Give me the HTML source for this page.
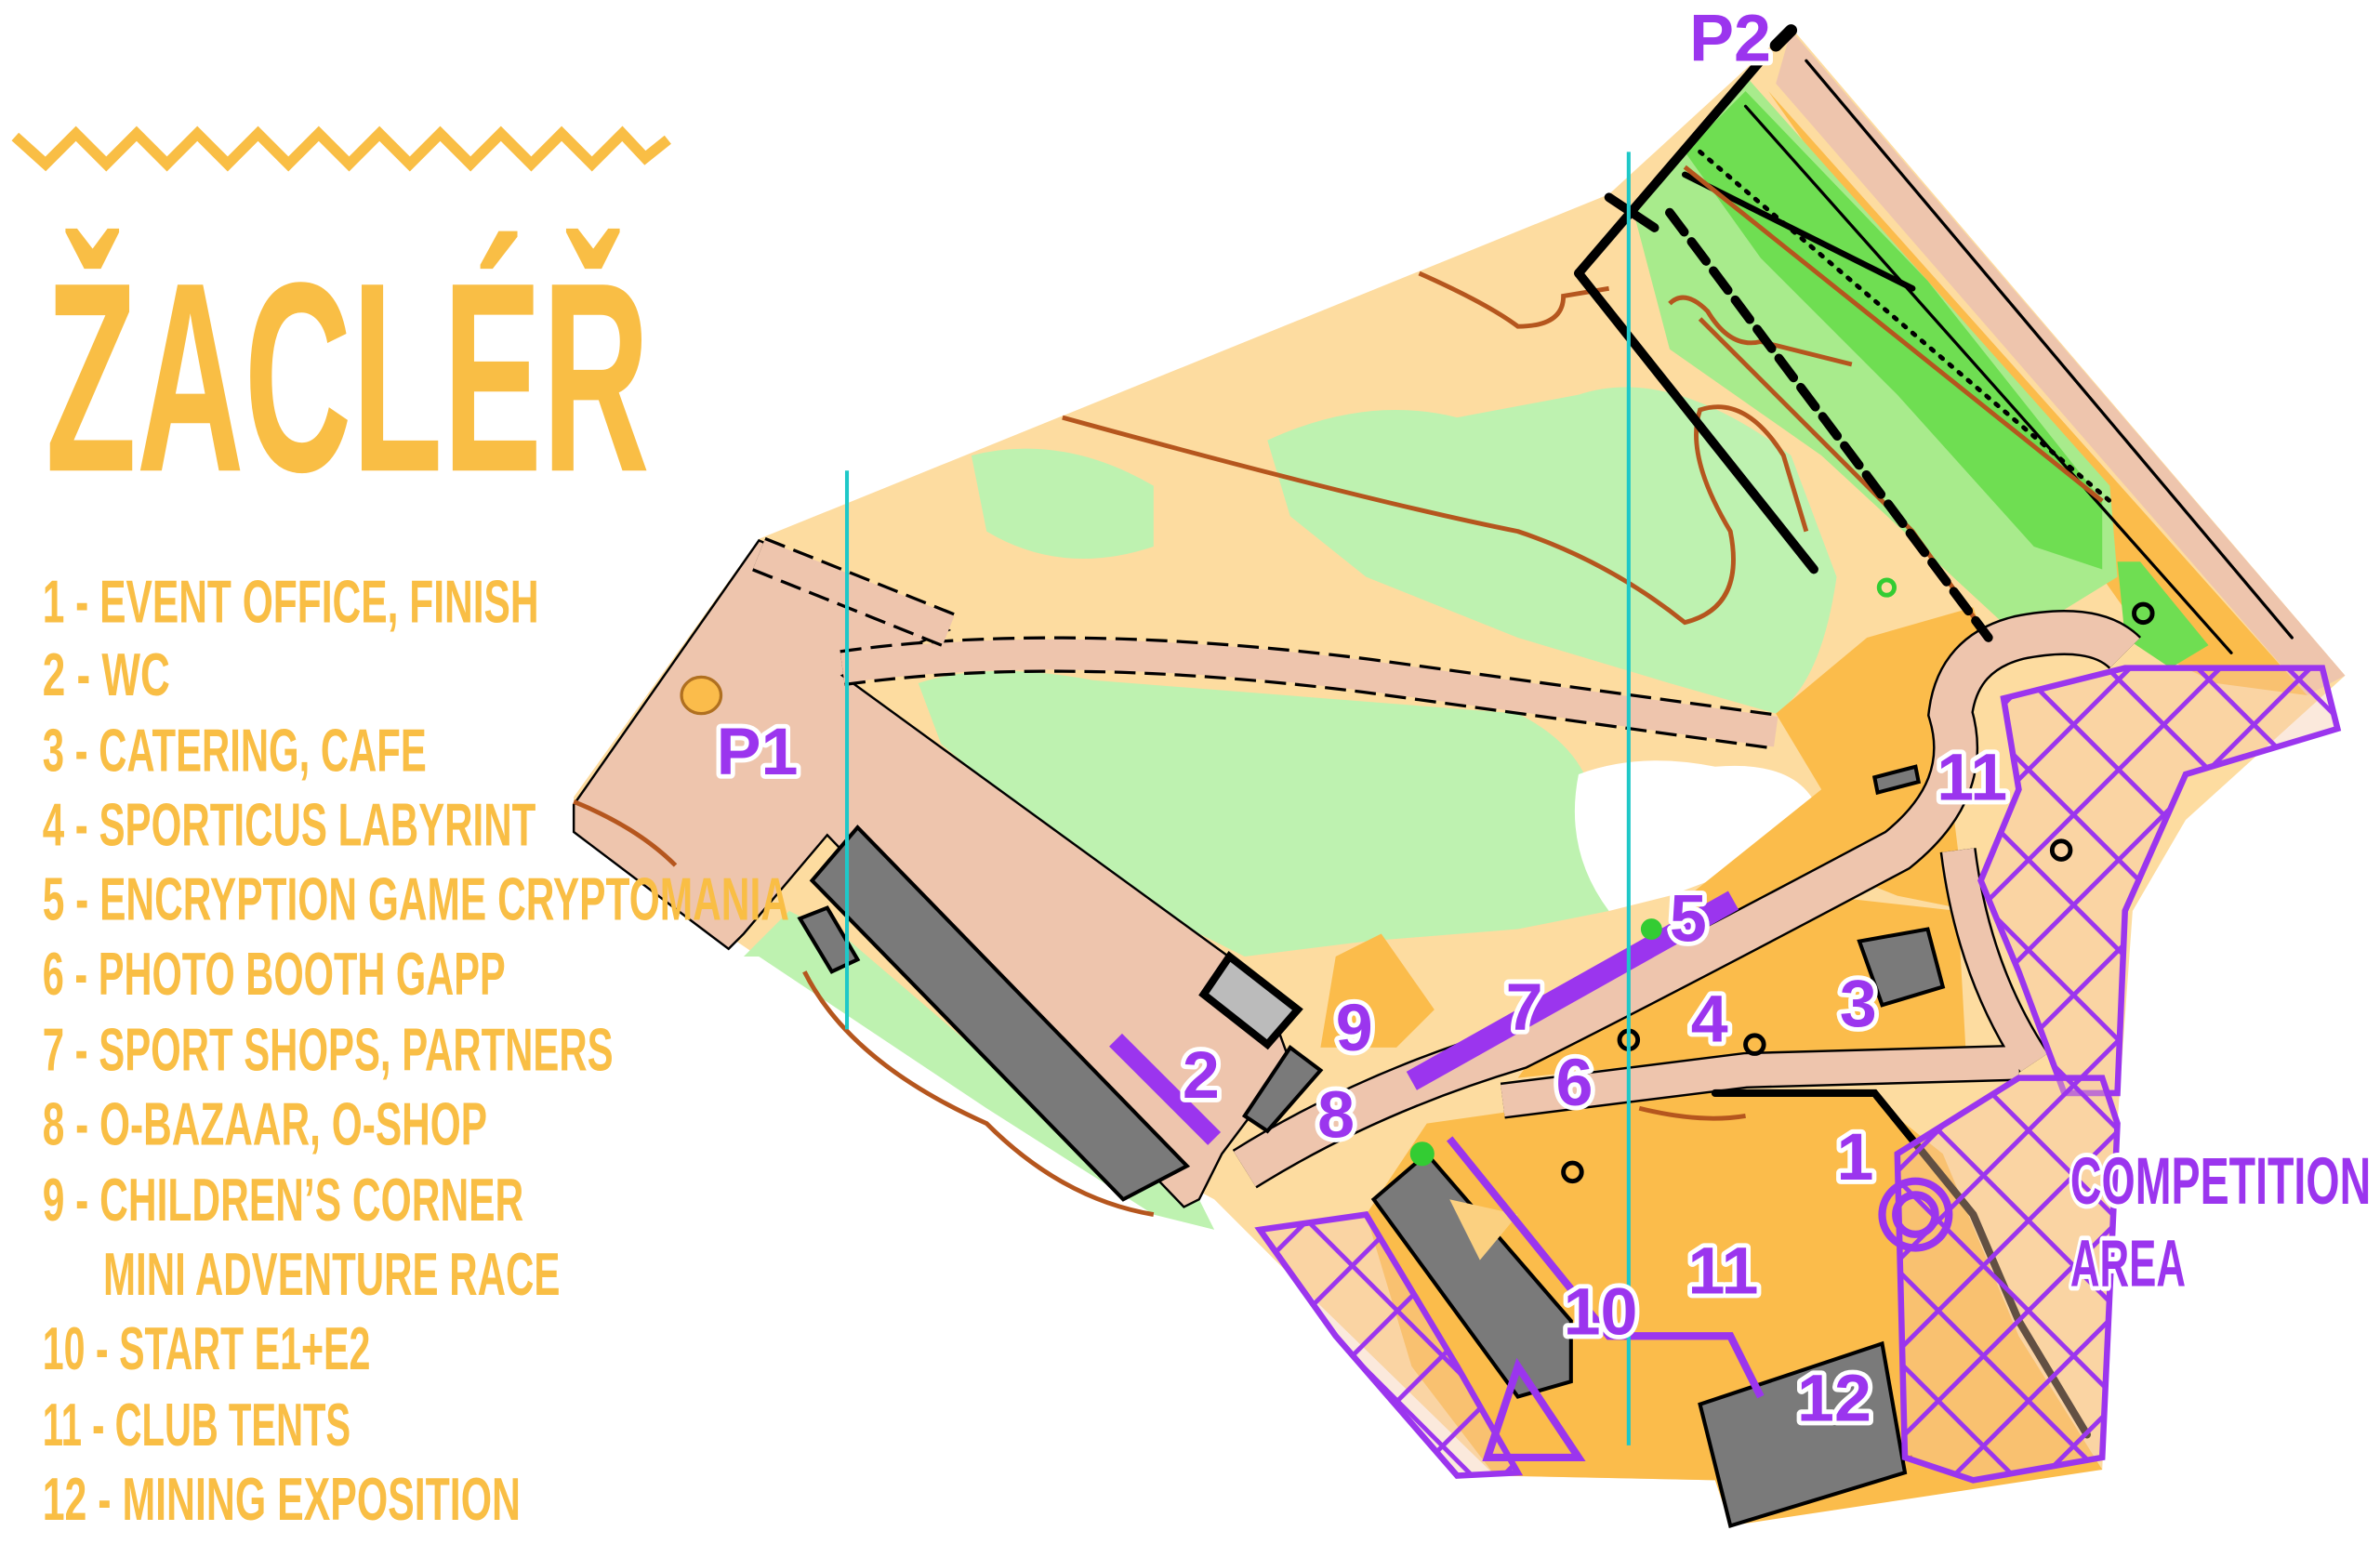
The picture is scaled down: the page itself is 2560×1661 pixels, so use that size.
<!DOCTYPE html>
<html><head><meta charset="utf-8"><style>
html,body{margin:0;padding:0;background:#fff;}
svg{display:block;}
.lg{font-family:"Liberation Sans Narrow","Liberation Sans",sans-serif;font-weight:bold;fill:#F9BE45;font-size:40px;}
.lb{font-family:"Liberation Sans Narrow","Liberation Sans",sans-serif;font-weight:bold;fill:#9B35EE;stroke:#fff;stroke-width:6px;paint-order:stroke;stroke-linejoin:round;font-size:44px;}
</style></head><body>
<svg width="2560" height="1661" viewBox="0 0 1568 1017" preserveAspectRatio="none" xmlns="http://www.w3.org/2000/svg">
<defs>
<pattern id="hatch" width="42" height="42" patternUnits="userSpaceOnUse" patternTransform="rotate(45)">
<rect width="42" height="42" fill="#F4C7A8" opacity="0.4"/>
<path d="M0,0 L0,42 M0,0 L42,0" stroke="#9B35EE" stroke-width="6"/>
</pattern>
</defs>
<!-- zigzag -->
<polyline points="10,90 30,108 50,88 70,108 90,88 110,108 130,88 150,108 170,88 190,108 210,88 230,108 250,88 270,108 290,88 310,108 330,88 350,108 370,88 390,108 410,88 425,104 440,92" fill="none" stroke="#F9BE45" stroke-width="7"/>
<text x="30" y="310" textLength="398" lengthAdjust="spacingAndGlyphs" style="font-family:'Liberation Sans Narrow','Liberation Sans',sans-serif;font-weight:bold;font-size:178px;fill:#F9BE45">ŽACLÉŘ</text>
<!-- map base -->
<path d="M378,525 L500,355 L1060,128 L1180,18 L1545,445 L1440,540 L1405,600 L1395,740 L1385,968 L1270,978 L1140,1005 L1130,975 L985,972 L870,860 L800,790 L500,630 L378,548 Z" fill="#FDDCA0"/>
<!-- greens -->
<path d="M605,450 Q650,435 720,448 L1000,470 Q1060,500 1050,560 L1060,600 L1000,612 L900,620 L820,630 L760,600 L680,540 L620,490 Z" fill="#BEF2B0"/>
<path d="M640,300 Q700,285 760,320 L760,360 Q700,380 650,350 Z" fill="#BEF2B0"/>
<path d="M835,290 Q900,260 960,275 L1040,260 Q1100,240 1180,300 L1210,380 Q1200,450 1170,470 L1100,450 L1000,420 L900,380 L850,340 Z" fill="#BEF2B0"/>
<path d="M490,630 L520,600 L560,620 L700,740 L790,790 L800,810 L760,800 L650,730 L500,630 Z" fill="#BEF2B0"/>
<path d="M1040,510 Q1080,495 1130,505 Q1190,500 1200,540 Q1190,580 1140,575 L1100,590 L1060,600 Q1030,560 1040,510 Z" fill="#fff"/>
<!-- right pink band and orange -->
<path d="M1180,20 L1545,445 L1520,458 L1170,55 Z" fill="#EEC5AD"/>
<path d="M1165,60 L1520,458 L1460,450 L1420,430 L1300,260 L1200,110 Z" fill="#FBBC4B"/>
<path d="M1075,135 L1150,50 L1270,185 L1390,320 L1395,380 L1330,420 L1200,300 L1100,230 Z" fill="#A8EB8C"/>
<path d="M1110,100 L1150,60 L1270,185 L1385,330 L1385,375 L1340,360 L1250,260 L1160,170 Z" fill="#6FDE52"/>
<path d="M1395,370 L1410,370 L1455,425 L1430,440 L1400,420 Z" fill="#6FDE52"/>
<!-- dark orange center-right -->
<path d="M1170,470 L1230,420 L1300,400 L1310,430 L1280,480 L1290,560 L1300,600 L1250,590 L1200,570 L1150,600 L1100,600 L1150,560 L1200,520 Z" fill="#FBBC4B"/>
<path d="M1050,640 L1200,590 L1290,600 L1295,690 L1100,700 L1000,710 Z" fill="#FBBC4B"/>
<path d="M940,740 L1080,720 L1230,720 L1280,760 L1330,880 L1385,968 L1140,1005 L1130,975 L985,972 L930,900 L900,800 Z" fill="#FBBC4B"/>
<path d="M880,630 L910,615 L945,665 L920,690 L870,690 Z" fill="#FBBC4B"/>
<!-- pink P1 area -->
<path d="M378,530 L500,356 L600,400 L625,415 L555,445 L830,645 L850,700 L805,760 L790,790 L780,795 L545,550 L490,615 L480,625 L378,548 Z" fill="#EEC5AD" stroke="#000" stroke-width="1.5"/>
<ellipse cx="462" cy="458" rx="13" ry="12" fill="#FBBC4B" stroke="#b07020" stroke-width="2"/>
<!-- roads -->
<path d="M555,440 Q700,420 900,445 L1170,482" fill="none" stroke="#000" stroke-width="24" stroke-dasharray="14 6"/>
<path d="M555,440 Q700,420 900,445 L1170,482" fill="none" stroke="#EEC5AD" stroke-width="20"/>
<path d="M500,365 L625,415" fill="none" stroke="#000" stroke-width="24" stroke-dasharray="14 6"/>
<path d="M500,365 L625,415" fill="none" stroke="#EEC5AD" stroke-width="20"/>
<path d="M820,770 Q900,720 1000,690 Q1100,640 1250,560 Q1300,520 1285,470 Q1290,430 1330,420 Q1380,410 1400,430" fill="none" stroke="#000" stroke-width="30"/>
<path d="M820,770 Q900,720 1000,690 Q1100,640 1250,560 Q1300,520 1285,470 Q1290,430 1330,420 Q1380,410 1400,430" fill="none" stroke="#EEC5AD" stroke-width="27"/>
<path d="M990,725 L1150,705 L1330,700 M1290,560 Q1300,640 1340,700" fill="none" stroke="#000" stroke-width="24"/>
<path d="M990,725 L1150,705 L1330,700 M1290,560 Q1300,640 1340,700" fill="none" stroke="#EEC5AD" stroke-width="21"/>
<!-- contours -->
<g fill="none" stroke="#B5561E" stroke-width="3">
<path d="M700,275 Q900,330 1000,350 Q1060,370 1110,410 Q1150,400 1140,350 Q1110,300 1120,270 Q1150,260 1175,300 L1190,350"/>
<path d="M935,180 Q980,200 1000,215 Q1030,215 1030,195 L1060,190"/>
<path d="M1100,200 Q1110,190 1125,205 Q1140,230 1160,225 L1220,240"/>
<path d="M1120,210 L1260,350 L1310,420"/>
<path d="M378,528 Q420,545 445,570"/>
<path d="M530,640 Q560,700 650,740 Q700,790 760,800"/>
<path d="M1080,730 Q1120,740 1150,735"/>
<path d="M1140,980 L1260,960"/>
</g>
<!-- black thick lines -->
<g stroke="#000" fill="none" stroke-linecap="round">
<path d="M1040,180 L1160,40" stroke-width="6"/>
<path d="M1040,180 L1195,375" stroke-width="6"/>
<path d="M1060,130 L1090,150" stroke-width="6"/>
<path d="M1100,140 L1310,420" stroke-width="6" stroke-dasharray="16 8"/>
<path d="M1110,115 L1260,190" stroke-width="4"/>
<path d="M1170,30 L1180,20" stroke-width="8"/>
<path d="M1120,100 L1390,330" stroke-width="3" stroke-dasharray="2 6"/>
<path d="M1150,70 L1470,430" stroke-width="2"/>
<path d="M1190,40 L1510,420" stroke-width="2"/>
<path d="M1130,720 L1235,720 L1300,800 L1330,870 L1375,945" stroke-width="5"/>
</g>
<g stroke="#B5561E" stroke-width="3" fill="none">
<path d="M1110,110 L1385,330"/>
</g>
<!-- buildings -->
<g stroke="#000" stroke-width="2.5">
<path d="M565,545 L535,580 L740,790 L782,768 Z" fill="#7A7A7A"/>
<path d="M810,630 L855,665 L835,688 L793,655 Z" fill="#BBB" stroke-width="5"/>
<path d="M850,690 L870,705 L835,745 L820,735 Z" fill="#7A7A7A"/>
<path d="M1225,620 L1270,612 L1280,650 L1240,662 Z" fill="#7A7A7A"/>
<path d="M905,790 L940,760 L1035,870 L1035,910 L1000,920 Z" fill="#7A7A7A"/>
<path d="M1120,925 L1240,885 L1255,970 L1140,1005 Z" fill="#7A7A7A"/>
<path d="M1235,512 L1262,505 L1264,515 L1237,522 Z" fill="#7A7A7A"/>
<path d="M527,605 L545,598 L565,632 L548,640 Z" fill="#7A7A7A"/>
</g>
<path d="M955,790 L1000,800 L975,830 Z" fill="#FBD080"/>
<!-- hatched zones -->
<g stroke="#9B35EE" stroke-width="4">
<path d="M1320,460 L1400,440 L1530,440 L1540,480 L1440,510 L1400,600 L1395,720 L1360,720 L1330,640 L1305,580 L1330,520 Z" fill="url(#hatch)"/>
<path d="M1250,760 L1330,710 L1385,710 L1395,740 L1385,960 L1300,975 L1255,960 Z" fill="url(#hatch)"/>
<path d="M830,810 L900,800 L960,900 L1000,970 L960,972 L880,880 Z" fill="url(#hatch)"/>
</g>
<g stroke="#9B35EE" fill="none" stroke-width="5">
<circle cx="1262" cy="800" r="22"/>
<circle cx="1262" cy="800" r="13"/>
<path d="M955,750 L1060,880 L1140,880 L1160,920"/>
<path d="M1000,900 L980,960 L1040,960 Z"/>
</g>
<!-- purple bars -->
<line x1="930" y1="712" x2="1142" y2="593" stroke="#9B35EE" stroke-width="14"/>
<line x1="735" y1="685" x2="800" y2="750" stroke="#9B35EE" stroke-width="12"/>
<!-- misc circles -->
<g fill="none" stroke="#000" stroke-width="3">
<circle cx="1073" cy="685" r="6"/><circle cx="1156" cy="688" r="6"/><circle cx="1036" cy="772" r="6"/><circle cx="1412" cy="404" r="6"/><circle cx="1358" cy="560" r="6"/>
</g>
<circle cx="937" cy="760" r="8" fill="#3c3"/>
<circle cx="1088" cy="612" r="7" fill="#3c3"/>
<circle cx="1243" cy="387" r="5" fill="none" stroke="#3c3" stroke-width="3"/>
<!-- cyan lines -->
<line x1="558" y1="310" x2="558" y2="678" stroke="#1EC8C8" stroke-width="2.5"/>
<line x1="1073" y1="100" x2="1073" y2="952" stroke="#1EC8C8" stroke-width="2.5"/>
<!-- labels -->
<g class="lb">
<text x="472" y="510">P1</text>
<text x="1113" y="40">P2</text>
<text x="1276" y="527">11</text>
<text x="1100" y="620">5</text>
<text x="992" y="678">7</text>
<text x="1114" y="686">4</text>
<text x="1212" y="676">3</text>
<text x="880" y="692">9</text>
<text x="779" y="723">2</text>
<text x="868" y="749">8</text>
<text x="1025" y="728">6</text>
<text x="1210" y="777">1</text>
<text x="1112" y="852">11</text>
<text x="1030" y="879">10</text>
<text x="1184" y="936">12</text>
<text x="1364" y="793" textLength="198" lengthAdjust="spacingAndGlyphs">COMPETITION</text>
<text x="1364" y="847" textLength="76" lengthAdjust="spacingAndGlyphs">AREA</text>
</g>
<!-- legend on top -->
<g class="lg">
<text x="28" y="410" textLength="327" lengthAdjust="spacingAndGlyphs">1 -  EVENT OFFICE, FINISH</text>
<text x="28" y="458" textLength="84" lengthAdjust="spacingAndGlyphs">2 - WC</text>
<text x="28" y="508" textLength="253" lengthAdjust="spacingAndGlyphs">3 - CATERING, CAFE</text>
<text x="28" y="557" textLength="325" lengthAdjust="spacingAndGlyphs">4 - SPORTICUS LABYRINT</text>
<text x="28" y="606" textLength="492" lengthAdjust="spacingAndGlyphs">5 - ENCRYPTION GAME CRYPTOMANIA</text>
<text x="28" y="655" textLength="305" lengthAdjust="spacingAndGlyphs">6 - PHOTO BOOTH GAPP</text>
<text x="28" y="705" textLength="376" lengthAdjust="spacingAndGlyphs">7 - SPORT SHOPS, PARTNERS</text>
<text x="28" y="754" textLength="293" lengthAdjust="spacingAndGlyphs">8 - O-BAZAAR, O-SHOP</text>
<text x="28" y="804" textLength="317" lengthAdjust="spacingAndGlyphs">9 - CHILDREN’S CORNER</text>
<text x="68" y="853" textLength="301" lengthAdjust="spacingAndGlyphs">MINI ADVENTURE RACE</text>
<text x="28" y="902" textLength="216" lengthAdjust="spacingAndGlyphs">10 - START E1+E2</text>
<text x="28" y="952" textLength="203" lengthAdjust="spacingAndGlyphs">11 - CLUB TENTS</text>
<text x="28" y="1001" textLength="315" lengthAdjust="spacingAndGlyphs">12 - MINING EXPOSITION</text>
</g>
</svg>
</body></html>
